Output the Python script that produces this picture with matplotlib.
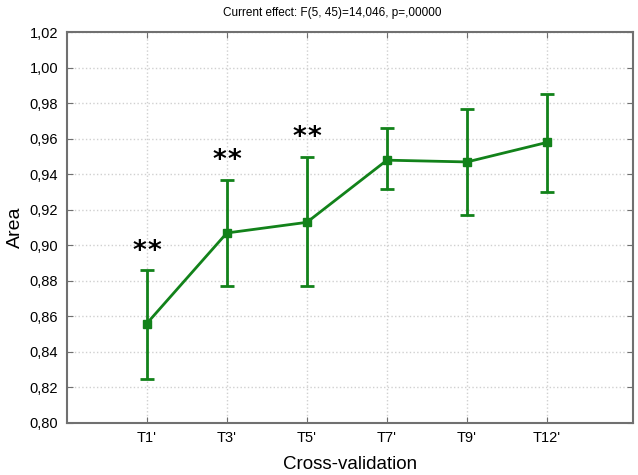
import numpy as np
import matplotlib
matplotlib.use("Agg")
import matplotlib.pyplot as plt

# values
labels = ["T1'", "T3'", "T5'", "T7'", "T9'", "T12'"]
means = [0.856, 0.907, 0.913, 0.948, 0.947, 0.958]
lower = [0.825, 0.877, 0.877, 0.932, 0.917, 0.930]
upper = [0.886, 0.937, 0.950, 0.966, 0.977, 0.985]
stars = ["**", "**", "**", "", "", ""]

plt.rcParams['font.family'] = ['Liberation Sans', 'DejaVu Sans']

fig = plt.figure(figsize=(6.38, 4.75), dpi=100)
ax = fig.add_axes([66.7 / 638, 1 - 423 / 475, (632.7 - 66.7) / 638, (423 - 32.3) / 475])

x = np.arange(1, len(labels) + 1)
m = np.array(means)
err = [m - np.array(lower), np.array(upper) - m]
green = '#12821a'
ax.errorbar(x, m, yerr=err, color=green, lw=2, marker='s', ms=5.5,
            elinewidth=2, capsize=5, capthick=2)

# significance stars, drawn one by one so they sit a bit apart
for xi, s, u in zip(x, stars, upper):
    for k, ch in enumerate(s):
        off = (k - (len(s) - 1) / 2) * 0.19
        ax.text(xi + off, u + 0.003, ch, ha='center', va='bottom', fontsize=19,
                fontweight='bold', color='black', family='DejaVu Sans')

ax.set_xlim(0, 7.07)
ax.set_ylim(0.80, 1.02)
ax.set_xticks(x)
ax.set_xticklabels(labels)
yt = np.arange(0.80, 1.0201, 0.02)
ax.set_yticks(yt)
ax.set_yticklabels([('%.2f' % v).replace('.', ',') for v in yt])
ax.grid(True, color='#d0d0d0', ls=':', lw=1)
ax.tick_params(direction='in', length=4, top=True, right=True, color='#707070',
               labelsize=10.5, pad=6)
for sp in ax.spines.values():
    sp.set_color('#707070')
    sp.set_linewidth(1.5)

ax.set_xlabel('Cross-validation', fontsize=13.5, labelpad=8)
ax.set_ylabel('Area', fontsize=14, labelpad=4)
fig.text(0.5 + 0.02, 1 - 13 / 475, 'Current effect: F(5, 45)=14,046, p=,00000',
         ha='center', va='center', fontsize=8.5)

fig.savefig('out.png', dpi=100)
